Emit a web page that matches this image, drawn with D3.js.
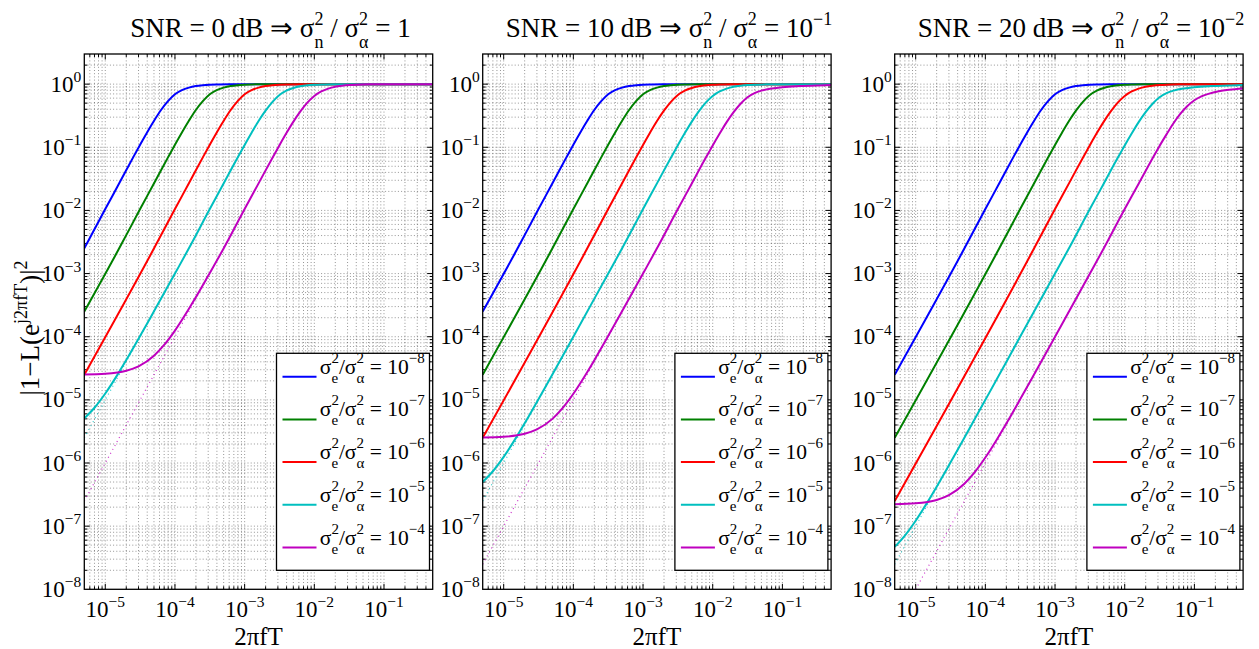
<!DOCTYPE html>
<html><head><meta charset="utf-8">
<script src="https://cdn.jsdelivr.net/npm/d3@7"></script>
<style>
body{margin:0;background:#fff}
svg{display:block}
text{font-family:"Liberation Serif","Times New Roman",serif;fill:#000}
</style>
</head><body>
<svg id="chart" width="1259" height="649"></svg>
<script>
// ---------------- data ----------------
const seriesExponents = ["−8", "−7", "−6", "−5", "−4"];
const seriesColors = ["#0000ff", "#008000", "#ff0000", "#00bfbf", "#bf00bf"];
const panelTitles = [
  {snr: "0", ratio: "1", ratioExp: ""},
  {snr: "10", ratio: "10", ratioExp: "−1"},
  {snr: "20", ratio: "10", ratioExp: "−2"}
];
const xTickValues = [1e-5, 1e-4, 1e-3, 1e-2, 1e-1];
const xTickExps = ["−5", "−4", "−3", "−2", "−1"];
const yTickValues = [1e-8, 1e-7, 1e-6, 1e-5, 1e-4, 1e-3, 1e-2, 1e-1, 1];
const yTickExps = ["−8", "−7", "−6", "−5", "−4", "−3", "−2", "−1", "0"];
const xDomain = [5e-6, 0.5];
const yDomain = [1e-8, 3];

// curves (x = 2πfT, y = |1-L|^2)
const curveK0 = [[5e-6,2.51e-3],[1e-5,0.0105],[1.585e-5,0.0269],[2.512e-5,0.0692],[3.162e-5,0.110],[3.981e-5,0.172],[5.012e-5,0.263],[6.31e-5,0.389],[7.943e-5,0.537],[1e-4,0.692],[1.259e-4,0.804],[1.585e-4,0.881],[1.995e-4,0.933],[2.512e-4,0.964],[3.162e-4,0.982],[3.981e-4,0.991],[6.31e-4,0.998],[1e-3,1],[0.5,1]];
const curveK1 = [[5e-6,2.5e-4],[1.585e-5,2.51e-3],[3.162e-5,0.0105],[5.012e-5,0.0269],[7.943e-5,0.0692],[1e-4,0.110],[1.259e-4,0.172],[1.585e-4,0.263],[1.995e-4,0.389],[2.512e-4,0.537],[3.162e-4,0.692],[3.981e-4,0.804],[5.012e-4,0.881],[6.31e-4,0.933],[7.943e-4,0.964],[1e-3,0.982],[1.259e-3,0.991],[1.995e-3,0.998],[3.162e-3,1],[0.5,1]];
const curveK2 = [[5e-6,2.5e-5],[5.012e-5,2.51e-3],[1e-4,0.0105],[1.585e-4,0.0269],[2.512e-4,0.0692],[3.162e-4,0.110],[3.981e-4,0.172],[5.012e-4,0.263],[6.31e-4,0.389],[7.943e-4,0.537],[1e-3,0.692],[1.259e-3,0.804],[1.585e-3,0.881],[1.995e-3,0.933],[2.512e-3,0.964],[3.162e-3,0.982],[3.981e-3,0.991],[6.31e-3,0.998],[1e-2,1],[0.5,1]];
const upperK3 = [[1.585e-4,2.51e-3],[3.162e-4,0.0105],[5.012e-4,0.0269],[7.943e-4,0.069],[1e-3,0.109],[1.259e-3,0.17],[1.585e-3,0.26],[1.995e-3,0.38],[2.512e-3,0.525],[3.162e-3,0.675],[3.981e-3,0.79],[5.012e-3,0.87],[6.31e-3,0.925],[7.943e-3,0.958],[1e-2,0.978],[1.259e-2,0.989],[1.995e-2,0.997],[3.162e-2,1],[0.5,1]];
const upperK4 = [[5.012e-4,2.51e-3],[1e-3,0.0105],[1.585e-3,0.0268],[2.512e-3,0.0685],[3.162e-3,0.108],[3.981e-3,0.168],[5.012e-3,0.255],[6.31e-3,0.37],[7.943e-3,0.51],[1e-2,0.65],[1.259e-2,0.765],[1.585e-2,0.85],[1.995e-2,0.91],[2.512e-2,0.945],[3.162e-2,0.968],[3.981e-2,0.981],[6.31e-2,0.993],[0.1,0.998],[0.5,1]];
const upperK5 = [[1.585e-3,2.51e-3],[3.162e-3,0.0105],[5.012e-3,0.0267],[7.943e-3,0.068],[1e-2,0.107],[1.259e-2,0.165],[1.585e-2,0.25],[1.995e-2,0.36],[2.512e-2,0.49],[3.162e-2,0.62],[3.981e-2,0.72],[5.012e-2,0.79],[7.079e-2,0.855],[0.1,0.895],[0.1778,0.93],[0.3162,0.952],[0.5,0.965]];
const upperK6 = [[5.012e-3,2.51e-3],[1e-2,0.0105],[1.585e-2,0.0265],[2.512e-2,0.067],[3.162e-2,0.105],[3.981e-2,0.16],[5.012e-2,0.24],[6.31e-2,0.34],[7.943e-2,0.45],[0.1,0.555],[0.1259,0.64],[0.1585,0.70],[0.2239,0.77],[0.3162,0.815],[0.5,0.855]];

// low-frequency parts (noise floor) of the cyan / magenta curves
const p1CyanLow = [[5e-6,5.1e-6],[7e-6,7.5e-6],[1e-5,1.26e-5],[1.5e-5,2.51e-5],[2e-5,4.26e-5],[3e-5,9.26e-5],[5e-5,2.53e-4],[1e-4,1e-3]];
const p1MagentaLow = [[5e-6,2.53e-5],[1e-5,2.6e-5],[2e-5,2.9e-5],[3e-5,3.4e-5],[5e-5,5e-5],[7e-5,7.4e-5],[1e-4,1.25e-4],[1.5e-4,2.5e-4],[2e-4,4.25e-4],[3e-4,9.25e-4]];
const p2RedLow = [[5e-6,2.5e-6]];
const p2CyanLow = [[5e-6,5e-7],[7e-6,7.4e-7],[1e-5,1.25e-6],[1.5e-5,2.5e-6],[2e-5,4.25e-6],[3e-5,9.25e-6],[5e-5,2.53e-5],[1e-4,1e-4],[3e-4,9e-4]];
const p2MagentaLow = [[5e-6,2.53e-6],[1e-5,2.6e-6],[2e-5,2.9e-6],[3e-5,3.4e-6],[5e-5,5e-6],[7e-5,7.4e-6],[1e-4,1.25e-5],[1.5e-4,2.5e-5],[2e-4,4.25e-5],[3e-4,9.25e-5],[5e-4,2.53e-4],[1e-3,1e-3]];
const p3RedLow = [[5e-6,2.5e-7]];
const p3CyanLow = [[5e-6,4.7e-8],[7e-6,7.1e-8],[1e-5,1.22e-7],[1.5e-5,2.47e-7],[2e-5,4.22e-7],[3e-5,9.22e-7],[5e-5,2.52e-6],[1e-4,1e-5],[3e-4,9e-5],[1e-3,1e-3]];
const p3MagentaLow = [[5e-6,2.23e-7],[1e-5,2.3e-7],[2e-5,2.6e-7],[3e-5,3.1e-7],[5e-5,4.7e-7],[7e-5,7.1e-7],[1e-4,1.22e-6],[1.5e-4,2.47e-6],[2e-4,4.22e-6],[3e-4,9.22e-6],[5e-4,2.52e-5],[1e-3,1e-4],[3e-3,9e-4]];

// dotted (noise-free) references
const p1CyanDot = [[5e-6,2.5e-6],[1e-4,1e-3]];
const p1MagentaDot = [[5e-6,2.5e-7],[3e-4,9e-4]];
const p2CyanDot = [[5e-6,2.5e-7],[1e-4,1e-4]];
const p2MagentaDot = [[5e-6,2.5e-8],[1e-3,1e-3]];
const p3CyanDot = [[5e-6,2.5e-8],[1e-3,1e-3]];
const p3MagentaDot = [[1e-5,1e-8],[3e-3,9e-4]];

const panelSeries = [
  [curveK0, curveK1, curveK2, [...p1CyanLow, ...upperK3], [...p1MagentaLow, ...upperK4]],
  [curveK1, curveK2, [...p2RedLow, ...upperK3], [...p2CyanLow, ...upperK4], [...p2MagentaLow, ...upperK5]],
  [curveK2, [...p2RedLow, ...upperK3], [...p3RedLow, ...upperK4], [...p3CyanLow, ...upperK5], [...p3MagentaLow, ...upperK6]]
];
const panelDotted = [
  [p1CyanDot, p1MagentaDot],
  [p2CyanDot, p2MagentaDot],
  [p3CyanDot, p3MagentaDot]
];

// ---------------- layout ----------------
const panelBoxes = [
  {left: 84.3, right: 432.7},
  {left: 482.7, right: 831.1},
  {left: 894.7, right: 1243.1}
];
const plotTop = 54, plotBottom = 589.3;
const FONT_TICK = 23, FONT_TICK_SUP = 15.5;
const FONT_TITLE = 27, FONT_TITLE_SCRIPT = 18;
const FONT_XLABEL = 25, FONT_YLABEL = 27, FONT_LABEL_SUP = 18;
const FONT_LEG = 21.5, FONT_LEG_SCRIPT = 15;

const svg = d3.select("#chart");

// rich text: parts = [{t}, {sup}, {sub}, {sup, sub}]
function richText(parent, x, y, parts, opts) {
  const g = parent.append("g");
  let cx = 0;
  for (const p of parts) {
    if (p.t !== undefined) {
      const t = g.append("text").attr("x", cx).attr("y", 0)
        .attr("font-size", opts.size).attr("xml:space", "preserve")
        .style("white-space", "pre").text(p.t);
      cx += t.node().getComputedTextLength();
    } else {
      let w = 0;
      if (p.sup !== undefined) {
        const s = g.append("text").attr("x", cx).attr("y", -opts.supShift)
          .attr("font-size", opts.small).text(p.sup);
        w = Math.max(w, s.node().getComputedTextLength());
      }
      if (p.sub !== undefined) {
        const s = g.append("text").attr("x", cx).attr("y", opts.subShift)
          .attr("font-size", opts.small).text(p.sub);
        w = Math.max(w, s.node().getComputedTextLength());
      }
      cx += w;
    }
  }
  let dx = 0;
  if (opts.anchor === "middle") dx = -cx / 2;
  else if (opts.anchor === "end") dx = -cx;
  g.attr("transform", `translate(${x + dx},${y})`);
  return {g, width: cx};
}

const line = (xs, ys) => d3.line().x(d => xs(d[0])).y(d => ys(d[1])).curve(d3.curveMonotoneX);

panelBoxes.forEach((box, pi) => {
  const x = d3.scaleLog().domain(xDomain).range([box.left, box.right]);
  const y = d3.scaleLog().domain(yDomain).range([plotBottom, plotTop]);
  const g = svg.append("g");
  const clipId = "clip" + pi;
  svg.append("clipPath").attr("id", clipId).append("rect")
    .attr("x", box.left).attr("y", plotTop)
    .attr("width", box.right - box.left).attr("height", plotBottom - plotTop);

  const xGrid = [], xMajor = [];
  for (let d = -6; d <= 0; d++) for (let m = 1; m <= 9; m++) {
    const v = m * Math.pow(10, d);
    if (v > xDomain[0] * 1.0001 && v < xDomain[1] * 0.9999) { xGrid.push(v); if (m === 1) xMajor.push(v); }
  }
  const yGrid = [], yMajor = [];
  for (let d = -8; d <= 0; d++) for (let m = 1; m <= 9; m++) {
    const v = m * Math.pow(10, d);
    if (v > yDomain[0] * 1.0001 && v < yDomain[1] * 0.9999) { yGrid.push(v); if (m === 1) yMajor.push(v); }
  }
  const grid = g.append("g").attr("stroke", "#222").attr("stroke-width", 0.6)
    .attr("stroke-dasharray", "1,2.2").attr("stroke-opacity", 0.8);
  grid.selectAll("line.gx").data(xGrid).join("line")
    .attr("x1", d => x(d)).attr("x2", d => x(d)).attr("y1", plotTop).attr("y2", plotBottom);
  grid.selectAll("line.gy").data(yGrid).join("line")
    .attr("y1", d => y(d)).attr("y2", d => y(d)).attr("x1", box.left).attr("x2", box.right);

  const ticks = g.append("g").attr("stroke", "#000").attr("stroke-width", 1);
  xGrid.forEach(v => {
    const L = xMajor.includes(v) ? 5.5 : 3;
    ticks.append("line").attr("x1", x(v)).attr("x2", x(v)).attr("y1", plotBottom).attr("y2", plotBottom - L);
    ticks.append("line").attr("x1", x(v)).attr("x2", x(v)).attr("y1", plotTop).attr("y2", plotTop + L);
  });
  yGrid.forEach(v => {
    const L = yMajor.includes(v) ? 5.5 : 3;
    ticks.append("line").attr("y1", y(v)).attr("y2", y(v)).attr("x1", box.left).attr("x2", box.left + L);
    ticks.append("line").attr("y1", y(v)).attr("y2", y(v)).attr("x1", box.right).attr("x2", box.right - L);
  });

  const cg = g.append("g").attr("clip-path", `url(#${clipId})`);
  panelDotted[pi].forEach((data, j) => {
    cg.append("path").attr("d", line(x, y)(data)).attr("fill", "none")
      .attr("stroke", seriesColors[3 + j]).attr("stroke-width", 1.2)
      .attr("stroke-dasharray", "1,3.5").attr("stroke-opacity", 0.8);
  });
  panelSeries[pi].forEach((data, j) => {
    cg.append("path").attr("d", line(x, y)(data)).attr("fill", "none")
      .attr("stroke", seriesColors[j]).attr("stroke-width", 2);
  });

  g.append("rect").attr("x", box.left).attr("y", plotTop)
    .attr("width", box.right - box.left).attr("height", plotBottom - plotTop)
    .attr("fill", "none").attr("stroke", "#000").attr("stroke-width", 1.3);

  const tickOpts = {size: FONT_TICK, small: FONT_TICK_SUP, supShift: 9.5, subShift: 6, anchor: "middle"};
  xTickValues.forEach((v, i) => {
    richText(g, x(v), 616.5, [{t: "10"}, {sup: xTickExps[i]}], tickOpts);
  });
  yTickValues.forEach((v, i) => {
    richText(g, box.left - 3, y(v) + 7.5, [{t: "10"}, {sup: yTickExps[i]}], Object.assign({}, tickOpts, {anchor: "end"}));
  });

  richText(g, (box.left + box.right) / 2, 644.5, [{t: "2πfT"}],
    {size: FONT_XLABEL, small: FONT_LABEL_SUP, supShift: 9, subShift: 6, anchor: "middle"});

  const tt = panelTitles[pi];
  const titleParts = [{t: `SNR = ${tt.snr} dB ⇒ σ`}, {sup: "2", sub: "n"}, {t: " / σ"}, {sup: "2", sub: "α"}, {t: ` = ${tt.ratio}`}];
  if (tt.ratioExp) titleParts.push({sup: tt.ratioExp});
  richText(g, (box.left + box.right) / 2 + 12, 37, titleParts,
    {size: FONT_TITLE, small: FONT_TITLE_SCRIPT, supShift: 12.5, subShift: 11, anchor: "middle"});

  const legW = 153, legH = 217;
  const lx = box.right - 3.2 - legW, ly = 353.3;
  const lg = g.append("g");
  lg.append("rect").attr("x", lx).attr("y", ly).attr("width", legW).attr("height", legH)
    .attr("fill", "#fff").attr("stroke", "#000").attr("stroke-width", 1.3);
  seriesExponents.forEach((e, j) => {
    const ry = ly + 23.4 + j * 42.7;
    lg.append("line").attr("x1", lx + 6).attr("x2", lx + 40).attr("y1", ry).attr("y2", ry)
      .attr("stroke", seriesColors[j]).attr("stroke-width", 2);
    richText(lg, lx + 43.3, ry - 3,
      [{t: "σ"}, {sup: "2", sub: "e"}, {t: "/σ"}, {sup: "2", sub: "α"}, {t: " = 10"}, {sup: e}],
      {size: FONT_LEG, small: FONT_LEG_SCRIPT, supShift: 11, subShift: 9, anchor: "start"});
  });
});

const yl = svg.append("g").attr("transform", "translate(39,328) rotate(-90)");
richText(yl, 0, 0, [{t: "|1−L(e"}, {sup: "j2πfT"}, {t: ")|"}, {sup: "2"}],
  {size: FONT_YLABEL, small: FONT_LABEL_SUP, supShift: 12, subShift: 6, anchor: "middle"});
</script>
</body></html>
